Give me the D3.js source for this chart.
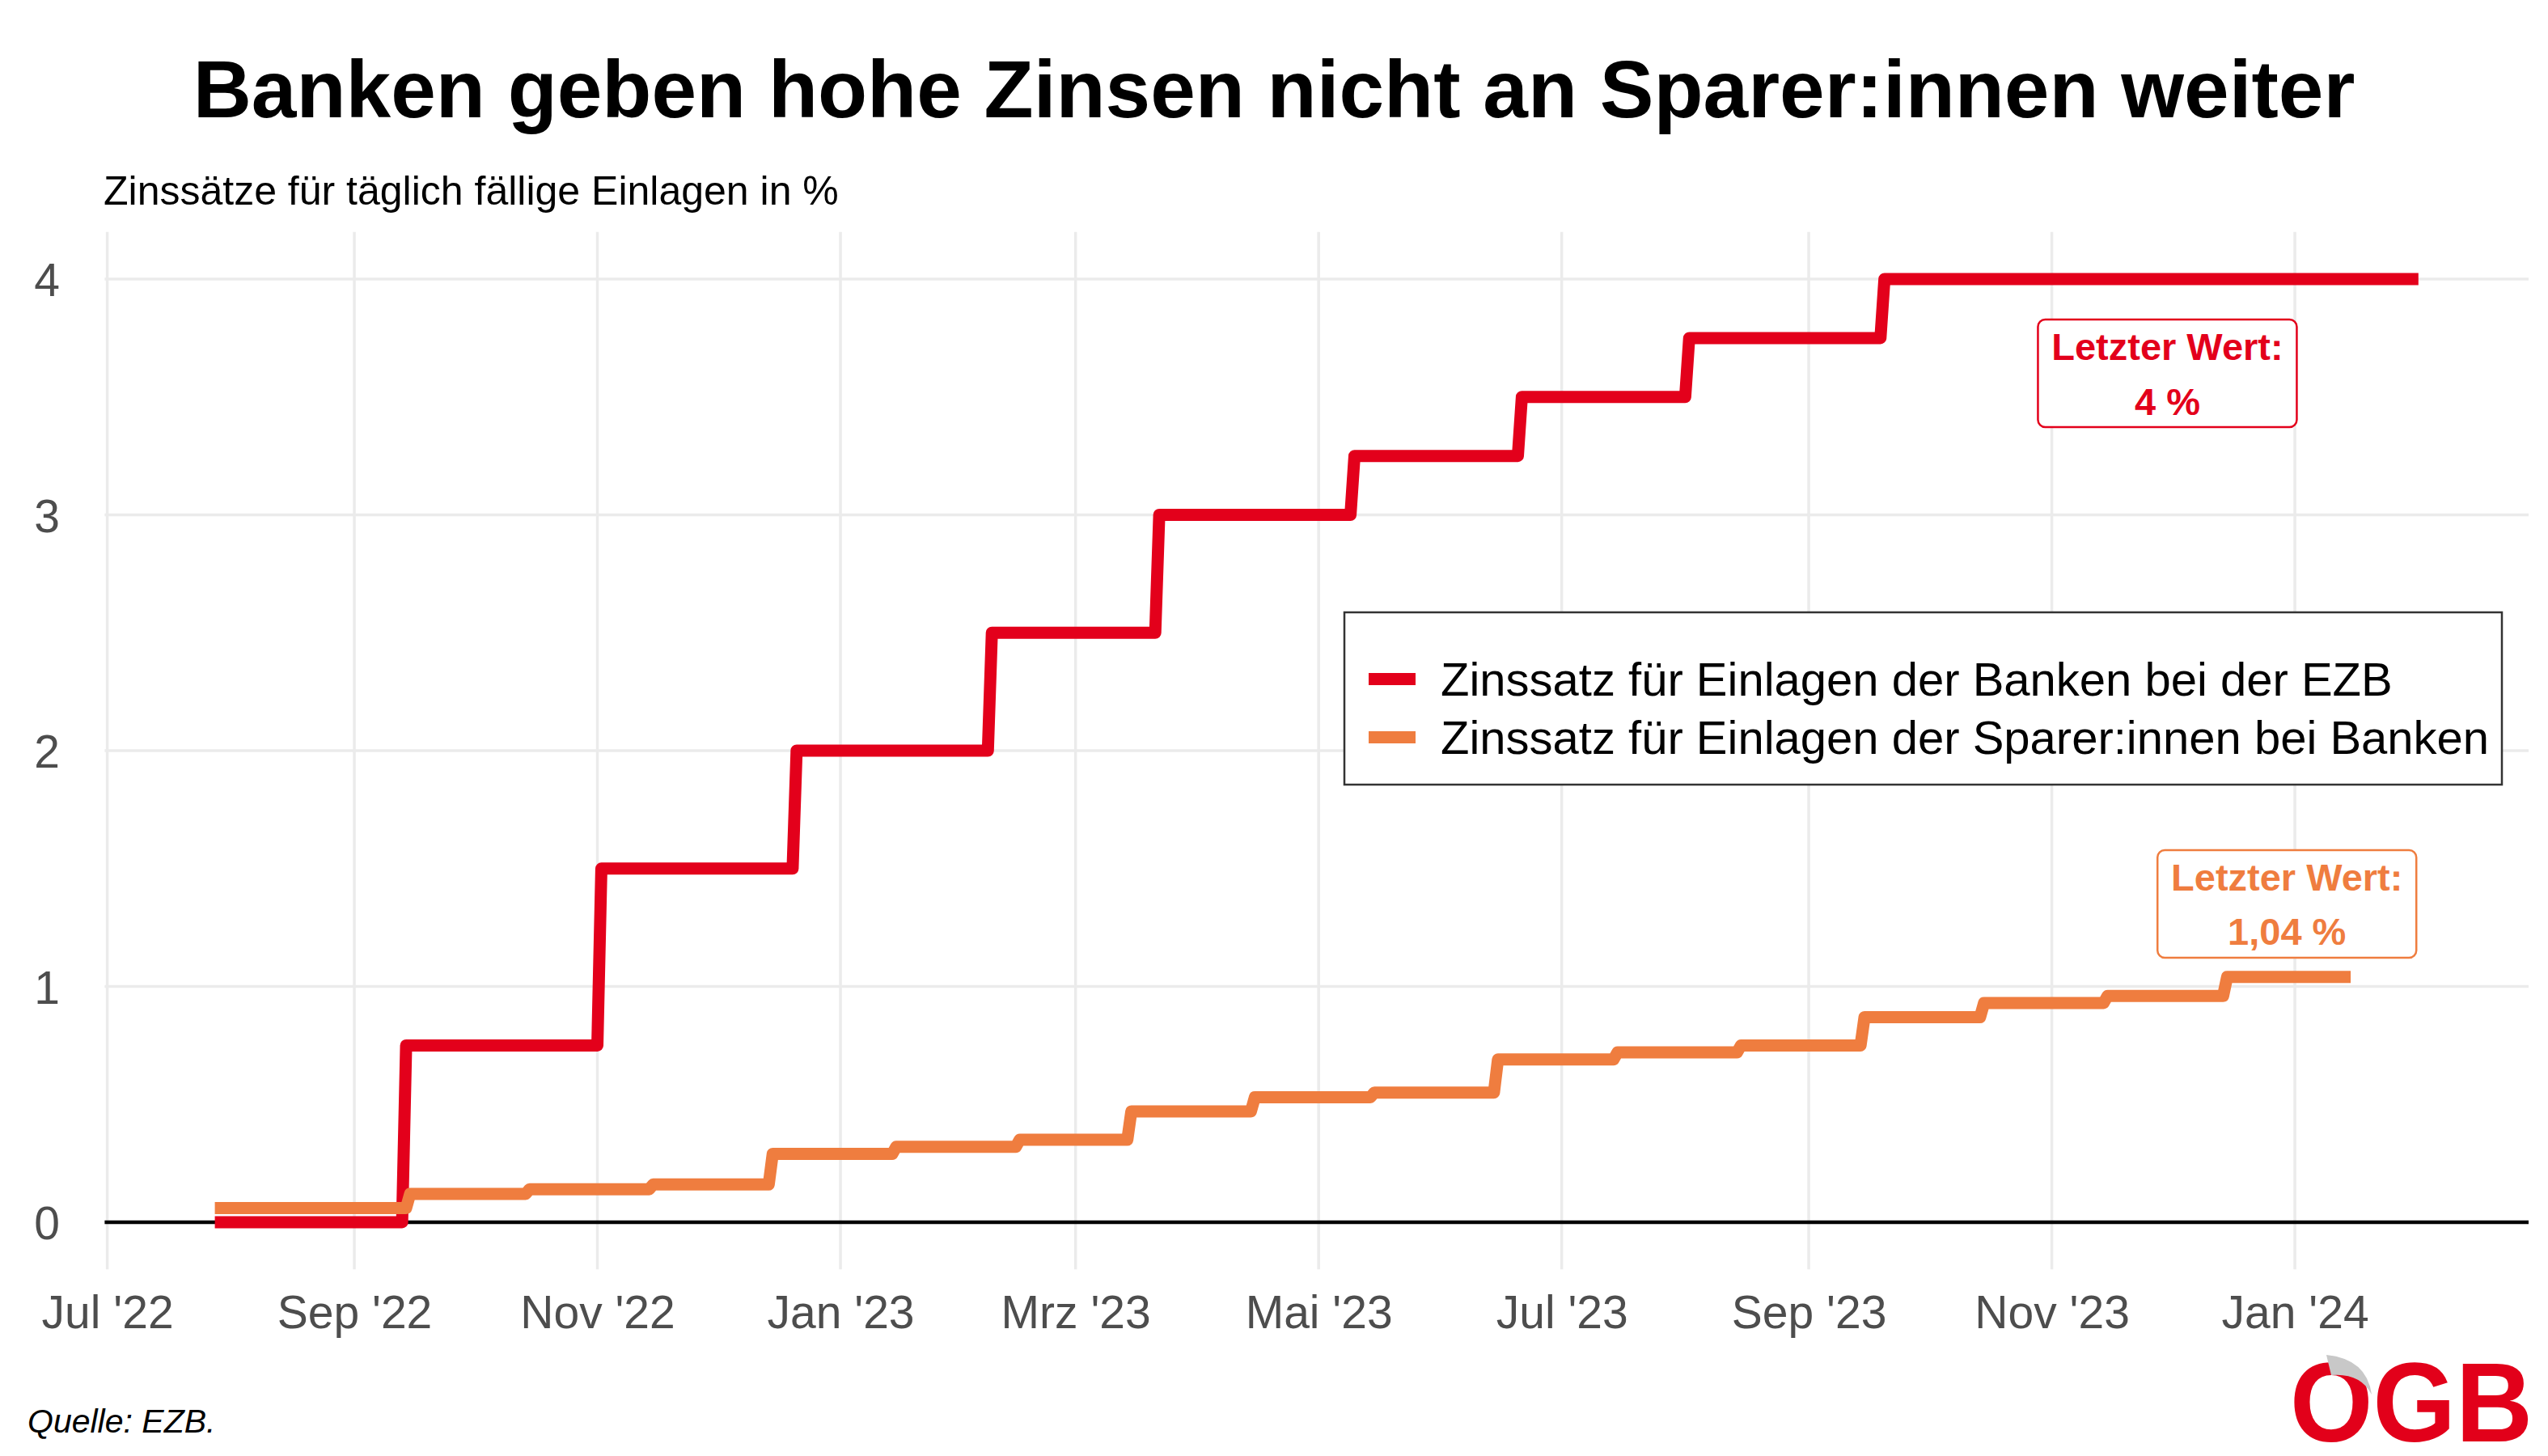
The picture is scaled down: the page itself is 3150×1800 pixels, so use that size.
<!DOCTYPE html>
<html><head><meta charset="utf-8">
<script src="https://cdn.jsdelivr.net/npm/d3@7"></script>
<style>
html,body{margin:0;padding:0;background:#fff;}
svg{display:block;font-family:"Liberation Sans", Arial, Helvetica, sans-serif;}
</style></head><body>
<svg id="chart" width="3150" height="1800"></svg>
<script>
// ---------------- DATA ----------------
const ezbDates  = ["2022-07-28","2022-09-14","2022-11-02","2022-12-21","2023-02-08","2023-03-22","2023-05-10","2023-06-21","2023-08-02","2023-09-20"];
const ezbValues = [0, 0.75, 1.5, 2.0, 2.5, 3.0, 3.25, 3.5, 3.75, 4.0];
const ezbEnd    = "2024-02-01";

const sparDates  = ["2022-07-28","2022-09-15","2022-10-15","2022-11-15","2022-12-15","2023-01-15","2023-02-15","2023-03-15","2023-04-15","2023-05-15","2023-06-15","2023-07-15","2023-08-15","2023-09-15","2023-10-15","2023-11-15","2023-12-15"];
const sparValues = [0.06, 0.12, 0.14, 0.16, 0.29, 0.32, 0.35, 0.47, 0.53, 0.55, 0.69, 0.72, 0.75, 0.87, 0.93, 0.96, 1.04];
const sparEnd    = "2024-01-15";

const seriesNames = ["Zinssatz für Einlagen der Banken bei der EZB", "Zinssatz für Einlagen der Sparer:innen bei Banken"];
const xTickDates  = ["2022-07-01","2022-09-01","2022-11-01","2023-01-01","2023-03-01","2023-05-01","2023-07-01","2023-09-01","2023-11-01","2024-01-01"];
const xTickLabels = ["Jul '22","Sep '22","Nov '22","Jan '23","Mrz '23","Mai '23","Jul '23","Sep '23","Nov '23","Jan '24"];
const yTicks      = [0, 1, 2, 3, 4];
const lastLabels  = ["4 %", "1,04 %"];
const titleText    = "Banken geben hohe Zinsen nicht an Sparer:innen weiter";
const subtitleText = "Zinssätze für täglich fällige Einlagen in %";
const sourceText   = "Quelle: EZB.";

// ---------------- LAYOUT / STYLE ----------------
const W = 3150, H = 1800;
const panel = {left: 129.4, right: 3126, top: 286.7, bottom: 1569.3};
const colors = ["#E3001B", "#EF7D3F"];
const lineW = 15;
const annot = [
  {date: "2023-11-30", value: 3.6},
  {date: "2023-12-30", value: 1.35}
];

const parse = d3.utcParse("%Y-%m-%d");
const DAY = 864e5;

// build daily-step line points from change points
function stepPoints(dates, values, end) {
  const pts = [];
  dates.forEach((d, i) => {
    const t = parse(d);
    if (i > 0) pts.push([new Date(t.getTime() - DAY), values[i - 1]]);
    pts.push([t, values[i]]);
  });
  pts.push([parse(end), values[values.length - 1]]);
  return pts;
}
const series = [
  stepPoints(ezbDates, ezbValues, ezbEnd),
  stepPoints(sparDates, sparValues, sparEnd)
];

// x domain: data extent expanded by 5 %
const allDates = series.flat().map(p => p[0]);
const ext = d3.extent(allDates);
const pad = (ext[1] - ext[0]) * 0.05;
const x = d3.scaleUtc().domain([new Date(+ext[0] - pad), new Date(+ext[1] + pad)]).range([panel.left, panel.right]);
const y = d3.scaleLinear().domain([-0.2, 4.2]).range([panel.bottom, panel.top]);

const svg = d3.select("#chart");
svg.append("rect").attr("width", W).attr("height", H).attr("fill", "#fff");

// grid
const gGrid = svg.append("g");
gGrid.selectAll("line.h").data(yTicks).join("line")
  .attr("x1", panel.left).attr("x2", panel.right)
  .attr("y1", d => y(d)).attr("y2", d => y(d))
  .attr("stroke", "#ebebeb").attr("stroke-width", 3.5);
gGrid.selectAll("line.v").data(xTickDates).join("line")
  .attr("x1", d => x(parse(d))).attr("x2", d => x(parse(d)))
  .attr("y1", panel.top).attr("y2", panel.bottom)
  .attr("stroke", "#ebebeb").attr("stroke-width", 3.5);

// x axis
const xAxis = d3.axisBottom(x)
  .tickValues(xTickDates.map(parse))
  .tickFormat((d, i) => xTickLabels[i])
  .tickSize(0).tickPadding(0);
const gx = svg.append("g").attr("transform", `translate(0,${1642})`).call(xAxis);
gx.select(".domain").remove();
gx.selectAll("text").attr("font-size", 57).attr("fill", "#4d4d4d")
  .attr("font-family", "Liberation Sans, Arial, sans-serif").attr("dy", 0).attr("y", 0);

// y axis
const yAxis = d3.axisLeft(y).tickValues(yTicks).tickFormat(d3.format("d")).tickSize(0).tickPadding(0);
const gy = svg.append("g").attr("transform", `translate(${74},0)`).call(yAxis);
gy.select(".domain").remove();
gy.selectAll("text").attr("font-size", 57).attr("fill", "#4d4d4d")
  .attr("font-family", "Liberation Sans, Arial, sans-serif").attr("dy", "0.36em").attr("x", 0);

// zero line
svg.append("line").attr("x1", panel.left).attr("x2", panel.right)
  .attr("y1", y(0)).attr("y2", y(0)).attr("stroke", "#000").attr("stroke-width", 4.3);

// lines
const line = d3.line().x(d => x(d[0])).y(d => y(d[1]));
svg.append("g").selectAll("path").data(series).join("path")
  .attr("d", line).attr("fill", "none")
  .attr("stroke", (d, i) => colors[i]).attr("stroke-width", lineW)
  .attr("stroke-linejoin", "round").attr("stroke-linecap", "butt");

// legend
const leg = {x: 1662, y: 757, w: 1431, h: 213, keyX: 1692, keyW: 58, textX: 1781, rows: [839.5, 911.5]};
const gL = svg.append("g");
gL.append("rect").attr("x", leg.x).attr("y", leg.y).attr("width", leg.w).attr("height", leg.h)
  .attr("fill", "#fff").attr("stroke", "#333").attr("stroke-width", 2.5);
seriesNames.forEach((name, i) => {
  gL.append("line").attr("x1", leg.keyX).attr("x2", leg.keyX + leg.keyW)
    .attr("y1", leg.rows[i]).attr("y2", leg.rows[i])
    .attr("stroke", colors[i]).attr("stroke-width", lineW);
  gL.append("text").attr("x", leg.textX).attr("y", leg.rows[i] + 20)
    .attr("font-size", 58).attr("fill", "#000").text(name);
});

// last value annotations
const bw = 320, bh = 133;
annot.forEach((a, i) => {
  const cx = x(parse(a.date)), cy = y(a.value);
  const g = svg.append("g");
  g.append("rect").attr("x", cx - bw / 2).attr("y", cy - bh / 2).attr("width", bw).attr("height", bh)
    .attr("rx", 9).attr("fill", "#fff").attr("stroke", colors[i]).attr("stroke-width", 2.5);
  g.append("text").attr("x", cx).attr("y", cy - 16.5).attr("text-anchor", "middle")
    .attr("font-size", 47).attr("font-weight", "bold").attr("fill", colors[i]).text("Letzter Wert:");
  g.append("text").attr("x", cx).attr("y", cy + 51).attr("text-anchor", "middle")
    .attr("font-size", 47).attr("font-weight", "bold").attr("fill", colors[i]).text(lastLabels[i]);
});

// titles
svg.append("text").attr("x", W / 2).attr("y", 145).attr("text-anchor", "middle")
  .attr("font-size", 100).attr("font-weight", "bold").attr("fill", "#000").text(titleText);
svg.append("text").attr("x", 128).attr("y", 253)
  .attr("font-size", 50).attr("fill", "#000").text(subtitleText);
svg.append("text").attr("x", 34).attr("y", 1771)
  .attr("font-size", 41).attr("font-style", "italic").attr("fill", "#000").text(sourceText);

// logo
const gLogo = svg.append("g");
gLogo.append("text").attr("x", 2831).attr("y", 1782)
  .attr("font-size", 140).attr("font-weight", "bold").attr("fill", "#E2001A")
  .attr("textLength", 300).attr("lengthAdjust", "spacingAndGlyphs").text("OGB");
gLogo.append("path").attr("d", "M2876,1675 Q2926,1680 2932,1724 Q2918,1697 2882,1700 Z").attr("fill", "#c8c8c8");
</script>
</body></html>
